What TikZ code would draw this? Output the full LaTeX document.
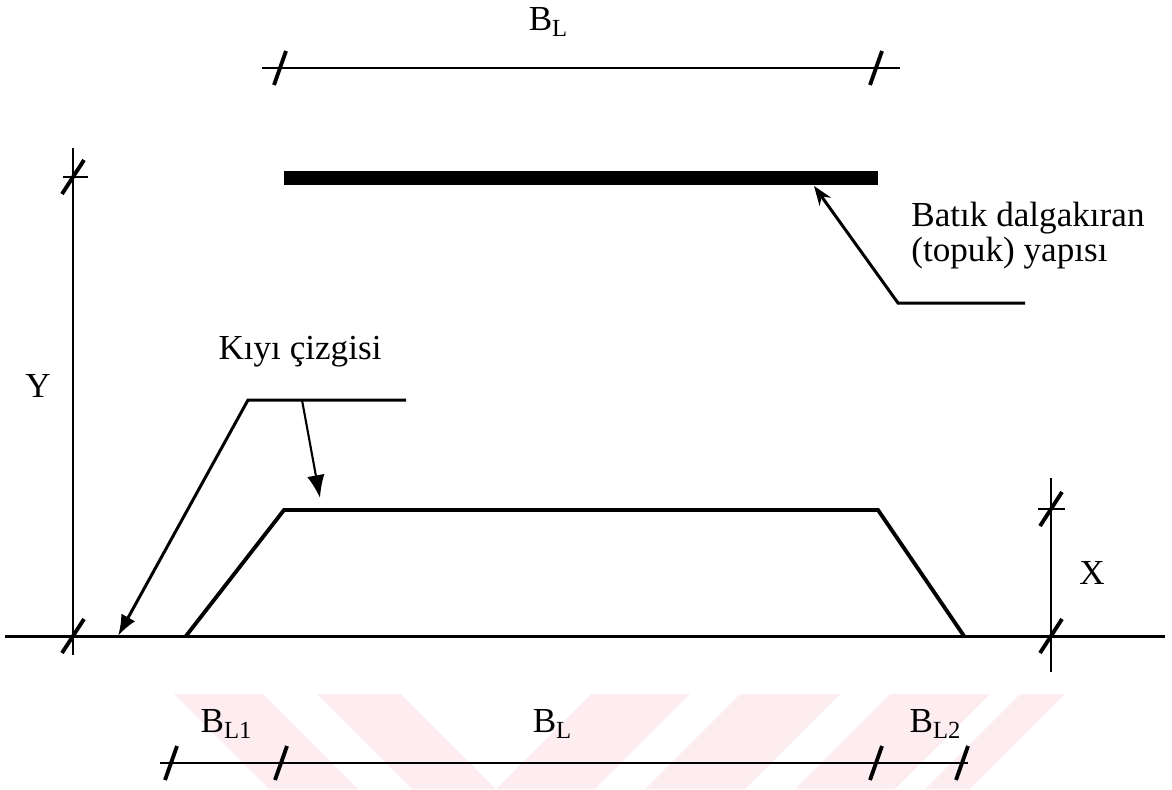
\documentclass[tikz,border=0pt]{standalone}
\usepackage{fontspec}
\setmainfont{Liberation Serif}
\usetikzlibrary{arrows.meta,positioning,calc}
\definecolor{ink}{HTML}{000000}
\definecolor{wmark}{HTML}{FDEDF0}
\tikzset{
  dimline/.style={line width=1.3pt, draw=ink},
  shoreline/.style={line width=2.2pt, draw=ink, line join=miter},
  tickmark/.style={line width=2.2pt, draw=ink},
  leader/.style={line width=1.7pt, draw=ink},
  lbl/.style={font=\fontsize{20}{24}\selectfont, inner sep=0pt},
}
\newcommand{\dimtick}[1]{\draw[tickmark] ($(#1)+(-6,17)$) -- ($(#1)+(6,-17)$);}
\newcommand{\vtick}[1]{\draw[tickmark] ($(#1)+(-11,17)$) -- ($(#1)+(11,-17)$);}
\newcommand{\bsub}[2]{#1\raisebox{-0.35ex}{\fontsize{14}{14}\selectfont #2}}

\begin{document}
\begin{tikzpicture}[x=0.02cm, y=-0.02cm]
\useasboundingbox (0,0) rectangle (1172,789);
% watermark
\foreach \a/\b/\c/\d in {174/263/358/269, 317/401/496/412, 591/690/595/496,
                         740/840/745/645, 890/990/895/795, 1020/1065/970/925}
  \fill[wmark] (\a,694) -- (\b,694) -- (\c,789) -- (\d,789) -- cycle;

% top dimension
\coordinate (topL) at (280,68);
\coordinate (topR) at (876,68);
\draw[dimline] (262,68) -- (900,68);
\dimtick{topL} \dimtick{topR}
\node[lbl] (blTop) at (548,22) {\bsub{B}{L}};

% submerged breakwater
\coordinate (barL) at (284,178);
\coordinate (barR) at (878,178);
\draw[line width=8.5pt] (barL) -- (barR);
\coordinate (bwTip) at (814,186);
\coordinate (bwKnee) at (898,303);
\coordinate (bwEnd) at (1025,303);
\draw[leader, -{Stealth[length=11pt,width=8pt]}] (bwEnd) -- (bwKnee) -- (bwTip);
\node[lbl, anchor=west] (bwText1) at (911,218) {Batık dalgakıran};
\node[lbl, anchor=west] (bwText2) at (911,253) {(topuk) yapısı};

% base line and shore line
\coordinate (base) at (73,636);
\draw[leader] (5,636) -- (1165,636);
\coordinate (shA) at (186,636);
\coordinate (shB) at (284,510);
\coordinate (shC) at (878,510);
\coordinate (shD) at (964,636);
\draw[shoreline] (shA) -- (shB) -- (shC) -- (shD);

% Y dimension
\coordinate (yTop) at (73,177);
\draw[dimline] (73,148) -- (73,655);
\draw[dimline] (63,177) -- (88,177);
\vtick{yTop} \vtick{base}
\node[lbl] (yLbl) at (38,386) {Y};

% X dimension
\coordinate (xTop) at (1051,509);
\coordinate (xBot) at (1051,636);
\draw[dimline] (1051,478) -- (1051,672);
\draw[dimline] (1038,509) -- (1065,509);
\vtick{xTop} \vtick{xBot}
\node[lbl] (xLbl) at (1092,573) {X};

% shore line label
\node[lbl] (kiyi) at (300,352) {Kıyı çizgisi};
\coordinate (kEnd) at (406,400);
\coordinate (kKnee) at (248,400);
\coordinate (kTip) at (118,636);
\coordinate (kStart) at (302,400);
\coordinate (kTip2) at (320,498);
\draw[leader, -{Latex[length=12pt,width=9pt]}] (kEnd) -- (kKnee) -- (kTip);
\draw[line width=1.2pt, -{Latex[length=13pt,width=10pt]}] (kStart) -- (kTip2);

% bottom dimensions
\coordinate (bd1) at (171,763);
\coordinate (bd2) at (281,763);
\coordinate (bd3) at (876,763);
\coordinate (bd4) at (962,763);
\draw[dimline] (160,763) -- (968,763);
\dimtick{bd1} \dimtick{bd2} \dimtick{bd3} \dimtick{bd4}
\node[lbl] (bl1) at (226,724) {\bsub{B}{L1}};
\node[lbl] (blMid) at (552,724) {\bsub{B}{L}};
\node[lbl] (bl2) at (935,724) {\bsub{B}{L2}};
\end{tikzpicture}
\end{document}
